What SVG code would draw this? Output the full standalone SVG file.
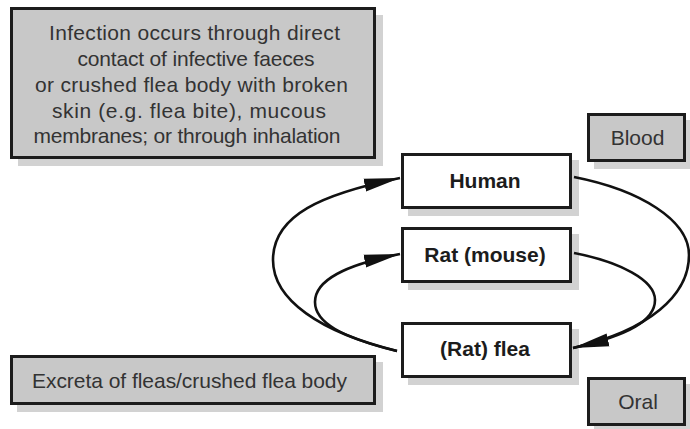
<svg xmlns="http://www.w3.org/2000/svg" width="690" height="429" viewBox="0 0 690 429">
<style>
.shadow{fill:#d2d2d2;stroke:none}
.gbox{fill:#c8c8c8;stroke:#1c1c1c;stroke-width:3}
.wbox{fill:#ffffff;stroke:#1c1c1c;stroke-width:3}
.note{font-family:"Liberation Sans",Arial,sans-serif;font-size:21px;fill:#333333;text-anchor:middle}
.lbl{font-family:"Liberation Sans",Arial,sans-serif;font-size:21px;fill:#333333;text-anchor:middle}
.node{font-family:"Liberation Sans",Arial,sans-serif;font-size:21px;font-weight:bold;fill:#1c1c1c;text-anchor:middle}
.conn{fill:none;stroke:#111111;stroke-width:2.6}
</style>
<defs>
<marker id="arrow" markerUnits="userSpaceOnUse" markerWidth="38" markerHeight="14" refX="36" refY="7" orient="auto">
<path d="M0,0.5 L36,7 L0,13.5 z" fill="#111111"/>
</marker>
</defs>
<rect width="690" height="429" fill="#ffffff"/>

<g id="infection-note">
<rect class="shadow" x="18" y="15" width="365" height="151"/>
<rect class="gbox" x="11.5" y="8.5" width="363" height="149"/>
<text class="note" x="194.5" y="40" textLength="291">Infection occurs through direct</text>
<text class="note" x="196" y="66" textLength="237">contact of infective faeces</text>
<text class="note" x="191.5" y="91.5" textLength="313">or crushed flea body with broken</text>
<text class="note" x="189" y="117.5" textLength="274">skin (e.g. flea bite), mucous</text>
<text class="note" x="187" y="143" textLength="307">membranes; or through inhalation</text>
</g>

<g id="blood">
<rect class="shadow" x="594" y="120" width="97" height="49"/>
<rect class="gbox" x="588.5" y="114.5" width="96" height="46"/>
<text class="lbl" x="637.5" y="145">Blood</text>
</g>

<g id="excreta">
<rect class="shadow" x="17" y="362" width="366" height="50"/>
<rect class="gbox" x="11.5" y="356.5" width="363" height="47"/>
<text class="lbl" x="189.5" y="388" textLength="315">Excreta of fleas/crushed flea body</text>
</g>

<g id="oral">
<rect class="shadow" x="594" y="384" width="97" height="49"/>
<rect class="gbox" x="588.5" y="378.5" width="96" height="46"/>
<text class="lbl" x="638" y="409">Oral</text>
</g>

<g id="human">
<rect class="shadow" x="408" y="160" width="171" height="56"/>
<rect class="wbox" x="402.5" y="154.5" width="168" height="53"/>
<text class="node" x="485" y="188">Human</text>
</g>

<g id="rat">
<rect class="shadow" x="408" y="234" width="171" height="56"/>
<rect class="wbox" x="402.5" y="228.5" width="168" height="53"/>
<text class="node" x="485" y="262">Rat (mouse)</text>
</g>

<g id="flea">
<rect class="shadow" x="408" y="329" width="171" height="56"/>
<rect class="wbox" x="402.5" y="323.5" width="168" height="53"/>
<text class="node" x="485" y="356">(Rat) flea</text>
</g>

<g id="connectors">
<path class="conn" d="M397,351 C320,332 273,300 273,260 C273,215 322,194 400,178" marker-end="url(#arrow)"/>
<path class="conn" d="M397,351 C340,337 315,322 315,302 C315,280 345,265 400,254" marker-end="url(#arrow)"/>
<path class="conn" d="M574,177 C640,190 689,220 689,255 C689,295 650,330 573,348" marker-end="url(#arrow)"/>
<path class="conn" d="M574,253 C620,262 655,280 655,300 C655,320 630,335 573,348"/>
</g>
</svg>
